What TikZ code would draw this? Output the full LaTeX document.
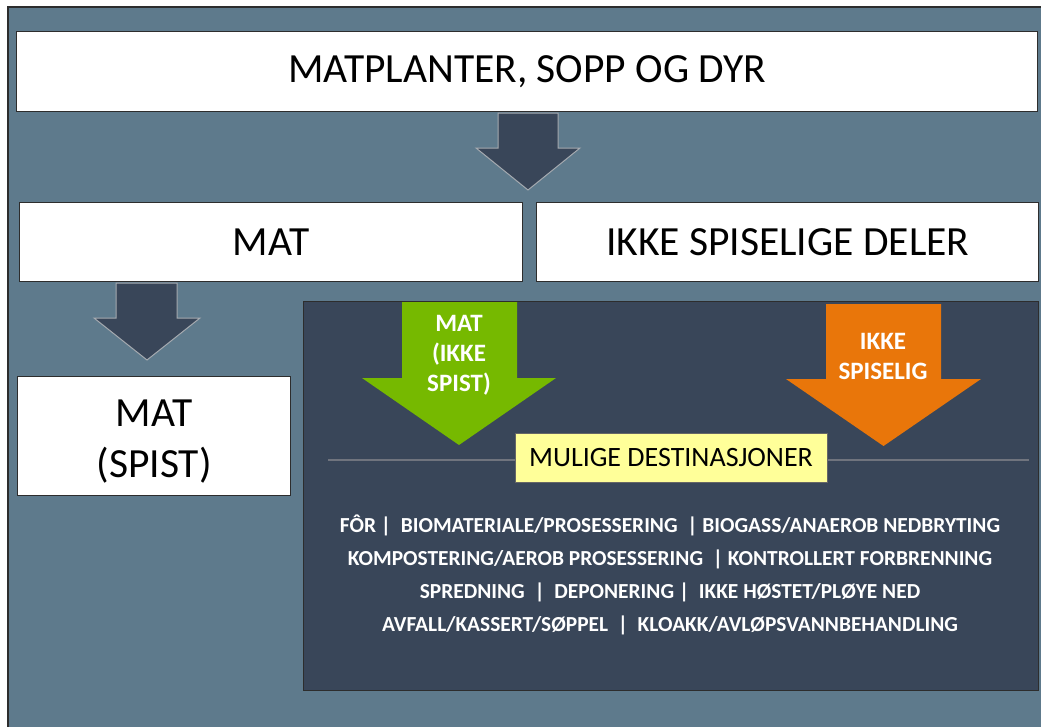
\documentclass[tikz,border=0pt]{standalone}
\usepackage{fontspec}
\setmainfont{Carlito}
\definecolor{slate}{RGB}{94,122,140}
\definecolor{darkbg}{RGB}{57,70,89}
\definecolor{arrowedge}{RGB}{165,170,176}
\definecolor{leafgreen}{RGB}{118,185,0}
\definecolor{warmorange}{RGB}{233,118,10}
\definecolor{paleyellow}{RGB}{255,255,153}
\definecolor{frameline}{RGB}{45,45,45}
\definecolor{rulegray}{RGB}{112,116,126}
\begin{document}
\begin{tikzpicture}[x=1pt,y=-1pt,
  whitebox/.style={draw=frameline, line width=1.3pt, fill=white, inner sep=0pt, anchor=north west},
  bigtext/.style={font=\fontsize{41.5}{51}\selectfont, align=center},
  darkarrow/.style={fill=darkbg, draw=arrowedge, line width=1pt},
  boldwhite/.style={text=white, font=\bfseries\fontsize{25}{30}\selectfont, align=center},
  listtext/.style={text=white, font=\bfseries\fontsize{21.4}{33}\selectfont, align=center}]
\useasboundingbox (0,0) rectangle (1041,726);
\fill[white] (0,0) rectangle (1041,726);
\draw[fill=slate, draw=frameline, line width=1.5pt] (8,7) rectangle (1052,740);

% top box
\node[whitebox, bigtext, minimum width=1021pt, minimum height=80pt] (top) at (16,31) {MATPLANTER, SOPP OG DYR};

% arrow 1
\draw[darkarrow] (498,113) -- (558,113) -- (558,148) -- (580,148) -- (528,190) -- (476,148) -- (498,148) -- cycle;

% second row
\node[whitebox, bigtext, minimum width=503pt, minimum height=79pt] (mat) at (19,202) {MAT};
\node[whitebox, bigtext, minimum width=502pt, minimum height=79pt] (ikke) at (536,202) {IKKE SPISELIGE DELER};

% arrow 2
\draw[darkarrow] (116,283) -- (177,283) -- (177,318) -- (200,318) -- (147,360) -- (94,318) -- (116,318) -- cycle;

% MAT (SPIST)
\node[whitebox, minimum width=273pt, minimum height=119pt] (spist) at (17,376) {};
\node[bigtext, yshift=-5pt] (spisttext) at (spist.center) {MAT\\(SPIST)};

% dark panel
\node[draw=frameline, fill=darkbg, line width=1.3pt, inner sep=0pt, anchor=north west, minimum width=735pt, minimum height=389pt] (panel) at (303,301) {};

% green arrow
\fill[leafgreen] (402,302) -- (517,302) -- (517,378) -- (556,378) -- (459,445) -- (362,378) -- (402,378) -- cycle;
\node[boldwhite] (greentext) at (459,355) {MAT\\(IKKE\\SPIST)};

% orange arrow
\fill[warmorange] (826,304) -- (941,304) -- (941,379) -- (981,379) -- (883.5,446) -- (786,379) -- (826,379) -- cycle;
\node[boldwhite] (orangetext) at (883,356) {IKKE\\SPISELIG};

% rule and label
\coordinate (ruleL) at (328,460);
\coordinate (ruleR) at (1029,460);
\draw[rulegray, line width=1.5pt] (ruleL) -- (ruleR);
\node[fill=paleyellow, draw=black!60, line width=0.6pt, minimum width=312pt, minimum height=49pt, inner sep=0pt, font=\fontsize{28}{30}\selectfont] (label) at (671,458) {MULIGE DESTINASJONER};

% list
\node[listtext] (list) at (670,575) {%
FÔR \textbar\ \ BIOMATERIALE/PROSESSERING \ \textbar\ BIOGASS/ANAEROB NEDBRYTING\\
KOMPOSTERING/AEROB PROSESSERING \ \textbar\ KONTROLLERT FORBRENNING\\
SPREDNING \ \textbar\ \ DEPONERING \textbar\ \ IKKE HØSTET/PLØYE NED\\
AVFALL/KASSERT/SØPPEL \ \textbar\ \ KLOAKK/AVLØPSVANNBEHANDLING};
\end{tikzpicture}
\end{document}
